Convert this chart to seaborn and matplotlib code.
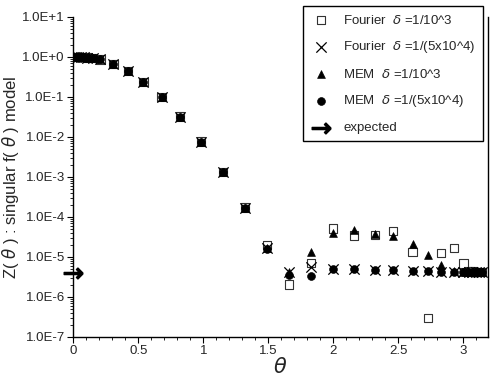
import numpy as np
import pandas as pd
import matplotlib
matplotlib.use("Agg")
import matplotlib.pyplot as plt
import matplotlib.ticker as mticker
import seaborn as sns

# ---------------------------------------------------------
# DATA
# ---------------------------------------------------------
theta = [0.0, 0.02, 0.04, 0.06, 0.08, 0.11, 0.15, 0.21, 0.31, 0.42, 0.54,
         0.68, 0.82, 0.985, 1.15, 1.32, 1.49, 1.66, 1.83, 2.0, 2.16, 2.32,
         2.46, 2.61, 2.73, 2.83, 2.93, 3.0, 3.04, 3.07, 3.10, 3.12, 3.14]

# common part (all four methods agree up to theta ~ 1.5)
z_common = [1.0, 1.0, 1.0, 0.99, 0.98, 0.96, 0.93, 0.86, 0.66, 0.44, 0.235,
            0.10, 0.032, 0.0076, 0.0013, 1.7e-4]

fourier_1e3_tail = [2.0e-5, 2.05e-6, 7.1e-6, 5.1e-5, 3.4e-5, 3.5e-5, 4.4e-5,
                    1.33e-5, 3.0e-7, 1.26e-5, 1.67e-5, 6.8e-6, 4.3e-6,
                    4.3e-6, 4.2e-6, 4.2e-6, 4.2e-6]
fourier_5e4_tail = [1.7e-5, 4.3e-6, 5.5e-6, 5.0e-6, 4.9e-6, 4.7e-6, 4.6e-6,
                    4.5e-6, 4.4e-6, 4.3e-6, 4.3e-6, 4.2e-6, 4.2e-6,
                    4.2e-6, 4.2e-6, 4.2e-6, 4.2e-6]
mem_1e3_tail = [1.7e-5, 4.3e-6, 1.3e-5, 4.0e-5, 4.8e-5, 3.8e-5, 3.3e-5,
                2.07e-5, 1.1e-5, 6.4e-6, 4.5e-6, 4.3e-6, 4.2e-6,
                4.2e-6, 4.2e-6, 4.2e-6, 4.2e-6]
mem_5e4_tail = [1.6e-5, 3.6e-6, 3.3e-6, 5.0e-6, 4.9e-6, 4.7e-6, 4.6e-6,
                4.5e-6, 4.4e-6, 4.2e-6, 4.3e-6, 4.2e-6, 4.2e-6,
                4.2e-6, 4.2e-6, 4.2e-6, 4.2e-6]

expected_theta = [0.0]
expected_z = [4.0e-6]

y_ticks = [1e-7, 1e-6, 1e-5, 1e-4, 1e-3, 1e-2, 1e-1, 1e0, 1e1]
y_ticklabels = ["1.0E-7", "1.0E-6", "1.0E-5", "1.0E-4", "1.0E-3",
                "1.0E-2", "1.0E-1", "1.0E+0", "1.0E+1"]
x_ticks = [0, 0.5, 1, 1.5, 2, 2.5, 3]
x_ticklabels = ["0", "0.5", "1", "1.5", "2", "2.5", "3"]


def main():
    sns.set_theme(style="ticks")
    plt.rcParams["font.family"] = ["Liberation Sans", "DejaVu Sans"]
    plt.rcParams["mathtext.fontset"] = "dejavusans"

    df = pd.DataFrame({
        "theta": theta,
        "f3": z_common + fourier_1e3_tail,
        "f5": z_common + fourier_5e4_tail,
        "m3": z_common + mem_1e3_tail,
        "m5": z_common + mem_5e4_tail,
    })

    fig = plt.figure(figsize=(4.91, 3.82), dpi=100)
    ax = fig.add_axes([0.149, 0.118, 0.845, 0.838])

    sns.scatterplot(data=df, x="theta", y="f3", ax=ax, marker="s", s=36,
                    facecolors="none", edgecolor="#333333", linewidth=0.8,
                    label=r"Fourier  $\delta$ =1/10^3", zorder=3)
    sns.scatterplot(data=df, x="theta", y="f5", ax=ax, marker="x", s=55,
                    color="black", linewidth=0.9,
                    label=r"Fourier  $\delta$ =1/(5x10^4)", zorder=4)
    sns.scatterplot(data=df, x="theta", y="m3", ax=ax, marker="^", s=32,
                    color="black", edgecolor="black",
                    label=r"MEM  $\delta$ =1/10^3", zorder=5)
    sns.scatterplot(data=df, x="theta", y="m5", ax=ax, marker="o", s=32,
                    color="black", edgecolor="black",
                    label=r"MEM  $\delta$ =1/(5x10^4)", zorder=5)
    sns.scatterplot(x=expected_theta, y=expected_z, ax=ax,
                    marker=r"$\rightarrow$", s=180, color="black",
                    edgecolor="black", linewidth=1.0, clip_on=False,
                    label="expected", zorder=6)

    ax.set_yscale("log")
    ax.set_ylim(1e-7, 1e1)
    ax.set_xlim(0, 3.19)
    ax.set_yticks(y_ticks)
    ax.set_yticklabels(y_ticklabels)
    ax.set_xticks(x_ticks)
    ax.set_xticklabels(x_ticklabels)
    ax.xaxis.set_minor_locator(mticker.MultipleLocator(0.1))
    ax.yaxis.set_minor_locator(mticker.LogLocator(base=10, subs=np.arange(2, 10)))
    ax.yaxis.set_minor_formatter(mticker.NullFormatter())
    ax.tick_params(axis="both", which="major", direction="out", length=4,
                   width=0.8, labelsize=9.5, color="black", pad=2)
    ax.tick_params(axis="both", which="minor", direction="out", length=2.5,
                   width=0.6, color="black")

    for side in ["left", "bottom", "right"]:
        ax.spines[side].set_visible(True)
        ax.spines[side].set_color("black")
        ax.spines[side].set_linewidth(1.0)
    ax.spines["top"].set_visible(False)

    ax.set_xlabel(r"$\theta$", fontsize=15, labelpad=0)
    ax.set_ylabel(r"Z( $\theta$ ) : singular f( $\theta$ ) model", fontsize=12,
                  labelpad=1)

    handles, labels = ax.get_legend_handles_labels()
    ax.legend_.remove()
    leg = fig.legend(handles, labels, loc="upper right",
                     bbox_to_anchor=(0.983, 0.983), fontsize=9.5,
                     frameon=True, fancybox=False, edgecolor="black",
                     framealpha=1, labelspacing=0.95, handletextpad=0.9,
                     borderpad=0.55, borderaxespad=0, handlelength=1.6)
    leg.get_frame().set_linewidth(1.0)

    fig.savefig("out.png", dpi=100)
    plt.close(fig)


if __name__ == "__main__":
    main()
